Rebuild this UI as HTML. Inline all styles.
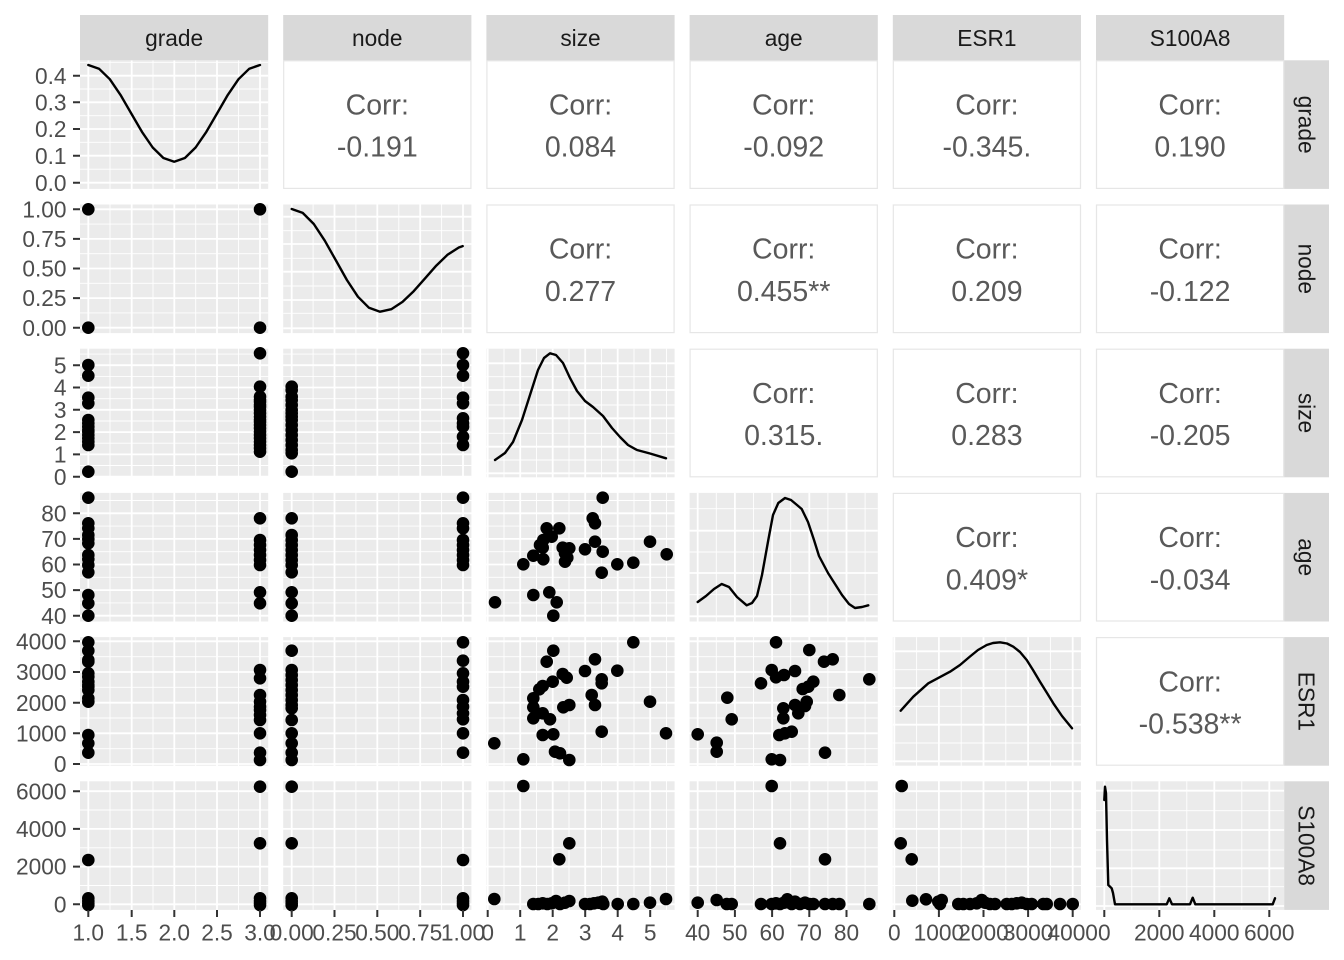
<!DOCTYPE html>
<html><head><meta charset="utf-8"><style>
html,body{margin:0;padding:0;background:#fff;}
svg{display:block;}
.t{font-family:"Liberation Sans",Arial,sans-serif;}
</style></head><body>
<svg width="1344" height="960" viewBox="0 0 1344 960" xmlns="http://www.w3.org/2000/svg">
<rect width="1344" height="960" fill="#fff"/>
<g fill="#EBEBEB">
<rect x="80" y="60.3" width="188.2" height="128.6"/>
<rect x="80" y="204.5" width="188.2" height="128.6"/><rect x="283.2" y="204.5" width="188.2" height="128.6"/>
<rect x="80" y="348.7" width="188.2" height="128.6"/><rect x="283.2" y="348.7" width="188.2" height="128.6"/><rect x="486.4" y="348.7" width="188.2" height="128.6"/>
<rect x="80" y="492.9" width="188.2" height="128.6"/><rect x="283.2" y="492.9" width="188.2" height="128.6"/><rect x="486.4" y="492.9" width="188.2" height="128.6"/><rect x="689.6" y="492.9" width="188.2" height="128.6"/>
<rect x="80" y="637.1" width="188.2" height="128.6"/><rect x="283.2" y="637.1" width="188.2" height="128.6"/><rect x="486.4" y="637.1" width="188.2" height="128.6"/><rect x="689.6" y="637.1" width="188.2" height="128.6"/><rect x="892.8" y="637.1" width="188.2" height="128.6"/>
<rect x="80" y="781.3" width="188.2" height="128.6"/><rect x="283.2" y="781.3" width="188.2" height="128.6"/><rect x="486.4" y="781.3" width="188.2" height="128.6"/><rect x="689.6" y="781.3" width="188.2" height="128.6"/><rect x="892.8" y="781.3" width="188.2" height="128.6"/><rect x="1096" y="781.3" width="188.2" height="128.6"/>
</g>
<!-- minor grid -->
<path stroke="#fff" stroke-width="0.9" fill="none" d="
M110 60.3V909.9M153 60.3V909.9M195.7 60.3V909.9M238.5 60.3V909.9
M313.1 204.5V909.9M355.9 204.5V909.9M398.8 204.5V909.9M441.6 204.5V909.9
M504 348.7V909.9M536.5 348.7V909.9M569 348.7V909.9M601.5 348.7V909.9M634 348.7V909.9M666.5 348.7V909.9
M716.3 492.9V909.9M753.5 492.9V909.9M790.7 492.9V909.9M827.9 492.9V909.9M865.1 492.9V909.9
M916.6 637.1V909.9M961.2 637.1V909.9M1005.8 637.1V909.9M1050.4 637.1V909.9
M1131.8 781.3V909.9M1186.8 781.3V909.9M1241.8 781.3V909.9
M80 169.2H268.2M80 142.3H268.2M80 115.7H268.2M80 89H268.2M80 62.3H268.2
M80 312.9H268.2M80 283.3H268.2M80 253.7H268.2M80 224.1H268.2
M283.2 313.3H471.4M283.2 286H471.4M283.2 258.3H471.4M283.2 230.7H471.4
M80 465.5H471.4M80 443.2H471.4M80 421H471.4M80 398.7H471.4M80 376.4H471.4M80 354.1H471.4
M486.4 460H674.6M486.4 433.3H674.6M486.4 405H674.6M486.4 376.7H674.6
M80 602.9H674.6M80 577.3H674.6M80 551.7H674.6M80 526.1H674.6M80 500.5H674.6
M689.6 594.7H877.8M689.6 552H877.8M689.6 508.7H877.8
M80 748.7H877.8M80 718H877.8M80 687.3H877.8M80 656.7H877.8
M892.8 743H1081M892.8 706.3H1081M892.8 669.7H1081
M80 885.5H1081M80 847.8H1081M80 810H1081
M1096 886.7H1284.2M1096 850H1284.2M1096 810.7H1284.2"/>
<!-- major grid -->
<path stroke="#fff" stroke-width="1.8" fill="none" d="
M88.3 60.3V909.9M131.7 60.3V909.9M174.3 60.3V909.9M217 60.3V909.9M260 60.3V909.9
M291.7 204.5V909.9M334.5 204.5V909.9M377.3 204.5V909.9M420.2 204.5V909.9M463 204.5V909.9
M487.7 348.7V909.9M520.2 348.7V909.9M552.7 348.7V909.9M585.2 348.7V909.9M617.7 348.7V909.9M650.2 348.7V909.9
M697.7 492.9V909.9M734.9 492.9V909.9M772.1 492.9V909.9M809.3 492.9V909.9M846.5 492.9V909.9
M894.3 637.1V909.9M938.9 637.1V909.9M983.5 637.1V909.9M1028.1 637.1V909.9M1072.7 637.1V909.9
M1104.3 781.3V909.9M1159.3 781.3V909.9M1214.3 781.3V909.9M1269.3 781.3V909.9
M80 182.7H268.2M80 155.7H268.2M80 129H268.2M80 102.3H268.2M80 75.7H268.2
M80 209.3H268.2M80 238.9H268.2M80 268.5H268.2M80 298.1H268.2M80 327.7H268.2
M283.2 328.3H471.4M283.2 300H471.4M283.2 271.7H471.4M283.2 244H471.4M283.2 216.7H471.4
M80 476.7H471.4M80 454.4H471.4M80 432.1H471.4M80 409.8H471.4M80 387.5H471.4M80 365.2H471.4
M486.4 473.3H674.6M486.4 446.7H674.6M486.4 418.3H674.6M486.4 390H674.6M486.4 363.3H674.6
M80 615.7H674.6M80 590.1H674.6M80 564.5H674.6M80 538.9H674.6M80 513.3H674.6
M689.6 616.3H877.8M689.6 573H877.8M689.6 530.7H877.8
M80 764H877.8M80 733.3H877.8M80 702.7H877.8M80 672H877.8M80 641.3H877.8
M892.8 761.3H1081M892.8 724.7H1081M892.8 688H1081M892.8 651.3H1081
M80 904.3H1081M80 866.6H1081M80 828.9H1081M80 791.2H1081
M1096 906H1284.2M1096 868.3H1284.2M1096 830H1284.2M1096 790.7H1284.2"/>

<!-- densities -->
<g fill="none" stroke="#000" stroke-width="2.4" stroke-linejoin="round" stroke-linecap="round">
<polyline points="88.3,65 99,68.7 109.8,79.2 120.5,94.9 131.2,113.4 142,131.9 152.7,147.5 163.4,158 174.2,161.7 184.9,158 195.6,147.5 206.3,131.9 217.1,113.4 227.8,94.9 238.5,79.2 249.3,68.7 260,65"/>
<polyline points="291.7,209 302.7,212.9 313.8,224 324.8,240.7 335.9,260.4 346.9,280 357.9,296.7 369,307.8 380,311.7 391.3,309.2 402.5,301.9 413.8,291.1 425,278.4 436.3,265.6 447.5,254.8 458.8,247.5 462.7,246.1"/>
<polyline points="495,460 505,453 513,442 522,420 530,395 538,370 544,358 550,353.3 556,355 563,363 570,378 577,391 585,401 593,407 603,416 612,428 620,437 628,445 637,450 650,453.5 666,458.3"/>
<polyline points="697.7,602 706,596 714,589 721.7,584 729,587 737,597 746.7,605.3 752,603 757,596 762,575 768.3,540 773,515 778.3,503 785,498 791,500 797,505 801.7,509 808,522 814,540 819,556 828,573 835,584 842,595 849,604 855,608 862,607 868.3,605.3"/>
<polyline points="900.7,710.7 913.3,696.7 928.3,683.3 950,671.7 960,665 970,656.5 978,650 986.7,645 993,643 1000,642.3 1007,643.5 1013.3,646.7 1020,652 1026.7,660 1033,670 1040,681.7 1047,693 1053.3,703.3 1062,716 1072,728.3"/>
<polyline points="1104.3,800 1105,786.7 1106,793.3 1107,840 1108.3,885 1111.7,888.3 1113,893 1115,904.3 1166.7,904.3 1169.3,898.3 1172,904.3 1190,904.3 1192.7,897.7 1195.3,904.3 1272.7,904.3 1275,898.3"/>
</g>

<!-- points -->
<path fill="none" stroke="#000" stroke-width="12.6" stroke-linecap="round" d="
M88.3 209.3h0.01M260 209.3h0.01M88.3 327.7h0.01M260 327.7h0.01
M88.3 365h0.01M88.3 375.7h0.01M88.3 397.7h0.01M88.3 403.3h0.01M88.3 420h0.01M88.3 423.3h0.01M88.3 426.7h0.01M88.3 430h0.01M88.3 431.7h0.01M88.3 435h0.01M88.3 438.3h0.01M88.3 441.7h0.01M88.3 445h0.01M88.3 471.7h0.01
M260 353.3h0.01M260 386.7h0.01M260 396.7h0.01M260 400h0.01M260 401.7h0.01M260 405h0.01M260 406.7h0.01M260 410h0.01M260 413.3h0.01M260 416.7h0.01M260 420h0.01M260 421.7h0.01M260 425h0.01M260 428.3h0.01M260 431.7h0.01M260 435h0.01M260 438.3h0.01M260 441.7h0.01M260 445h0.01M260 448.3h0.01M260 451.7h0.01
M291.7 386.7h0.01M291.7 390h0.01M291.7 396.7h0.01M291.7 400h0.01M291.7 405h0.01M291.7 410h0.01M291.7 413.3h0.01M291.7 416.7h0.01M291.7 420h0.01M291.7 425h0.01M291.7 430h0.01M291.7 435h0.01M291.7 440h0.01M291.7 445h0.01M291.7 450h0.01M291.7 453.3h0.01M291.7 471.7h0.01
M463 353.3h0.01M463 365h0.01M463 375.7h0.01M463 397.7h0.01M463 403.3h0.01M463 418.3h0.01M463 423.3h0.01M463 426.7h0.01M463 436.7h0.01M463 445h0.01
M88.3 497.7h0.01M88.3 523.3h0.01M88.3 528.3h0.01M88.3 535h0.01M88.3 539h0.01M88.3 543.3h0.01M88.3 555h0.01M88.3 559h0.01M88.3 565h0.01M88.3 572.3h0.01M88.3 595h0.01M88.3 603.3h0.01M88.3 615.7h0.01
M260 518.3h0.01M260 540h0.01M260 545h0.01M260 550h0.01M260 555h0.01M260 560h0.01M260 565h0.01M260 592.3h0.01M260 603.3h0.01
M291.7 518.3h0.01M291.7 535h0.01M291.7 540h0.01M291.7 545h0.01M291.7 550h0.01M291.7 555h0.01M291.7 560h0.01M291.7 565h0.01M291.7 572.3h0.01M291.7 592.3h0.01M291.7 603.3h0.01M291.7 615.7h0.01
M463 497.7h0.01M463 523.3h0.01M463 528.3h0.01M463 540h0.01M463 545h0.01M463 550h0.01M463 555h0.01M463 560h0.01M463 565h0.01
M88.3 642.3h0.01M88.3 650.7h0.01M88.3 660h0.01M88.3 661.7h0.01M88.3 673.3h0.01M88.3 676.7h0.01M88.3 681.7h0.01M88.3 685h0.01M88.3 686.7h0.01M88.3 690h0.01M88.3 698.3h0.01M88.3 701.7h0.01M88.3 735h0.01M88.3 743.3h0.01M88.3 752.7h0.01
M260 670h0.01M260 678.3h0.01M260 695h0.01M260 701.7h0.01M260 706.7h0.01M260 710h0.01M260 715h0.01M260 720h0.01M260 733.3h0.01M260 752.7h0.01M260 760h0.01
M291.7 650.7h0.01M291.7 670h0.01M291.7 675h0.01M291.7 680h0.01M291.7 685h0.01M291.7 690h0.01M291.7 695h0.01M291.7 700h0.01M291.7 705h0.01M291.7 708.3h0.01M291.7 720h0.01M291.7 733.3h0.01M291.7 743.3h0.01M291.7 752.7h0.01M291.7 760h0.01
M463 642.3h0.01M463 660.7h0.01M463 673.3h0.01M463 681.7h0.01M463 686.7h0.01M463 700h0.01M463 706.7h0.01M463 713.3h0.01M463 719.3h0.01M463 733.3h0.01M463 752.7h0.01
M88.3 860h0.01M88.3 898.3h0.01M88.3 901h0.01M88.3 903.3h0.01M88.3 905h0.01
M260 786.7h0.01M260 843.3h0.01M260 898.3h0.01M260 901h0.01M260 903.3h0.01M260 905h0.01
M291.7 786.7h0.01M291.7 843.3h0.01M291.7 898.3h0.01M291.7 901h0.01M291.7 903.3h0.01M291.7 905h0.01
M463 860h0.01M463 898.3h0.01M463 901h0.01M463 903.3h0.01M463 905h0.01
M602.7 497.7h0.01M592.7 518.3h0.01M595 523.3h0.01M546.7 528.3h0.01M559.3 528.3h0.01M551.7 536.7h0.01M543.3 540h0.01M540 545h0.01M542.7 547.7h0.01M533.3 555.7h0.01M543.3 559.3h0.01M523.3 564.3h0.01M562.7 547.7h0.01M569.3 548.3h0.01M565 553.3h0.01M567.3 557.7h0.01M565 561.7h0.01M585 549.3h0.01M595 541.7h0.01M602.7 551.7h0.01M650 541.7h0.01M666.7 554.3h0.01M617.3 564.3h0.01M633.3 562.7h0.01M601.7 572.7h0.01M533.3 595h0.01M549.3 592.3h0.01M556.7 602.3h0.01M553.3 615.7h0.01M495 602.3h0.01
M633.3 642.3h0.01M553.3 650.7h0.01M546.7 661.7h0.01M595 659.3h0.01M585 671h0.01M617.3 670.7h0.01M562.7 674h0.01M566.7 677.7h0.01M552.7 681.7h0.01M542.7 686h0.01M539.3 689.3h0.01M533.3 698.3h0.01M533.3 707.3h0.01M542.7 713.3h0.01M533.3 718.3h0.01M550 719.3h0.01M601.7 679.3h0.01M601.7 683.3h0.01M591.7 695h0.01M595 705h0.01M650 701.7h0.01M569.3 705h0.01M563.3 707.3h0.01M542.7 735h0.01M553.3 734.3h0.01M601.7 731.7h0.01M666 733.3h0.01M494.3 743.3h0.01M555 751.7h0.01M560 753.3h0.01M523.3 759.3h0.01M569.3 760h0.01
M523.3 786h0.01M569.3 843.3h0.01M559.3 859.3h0.01M494.3 899h0.01M666 899h0.01M533.3 904h0.01M538.3 904h0.01M542.7 903.3h0.01M547.3 904h0.01M551.7 903.3h0.01M556 901h0.01M560 904h0.01M565 902.7h0.01M569.3 901h0.01M585 904h0.01M590 904h0.01M594 903.3h0.01M598.3 902.7h0.01M602.3 901.7h0.01M603.3 904h0.01M617.7 904h0.01M633.3 904h0.01M650 902.7h0.01
M776 642.3h0.01M809.3 650h0.01M824 661.7h0.01M832.7 659.3h0.01M771.7 670h0.01M776 677.3h0.01M784 675h0.01M795 671h0.01M761 683.3h0.01M869.3 679.3h0.01M813.3 681.7h0.01M808.3 686.7h0.01M802.7 689h0.01M839.3 695h0.01M727.3 697.7h0.01M783.3 708.3h0.01M795 705h0.01M806.7 701.7h0.01M805 706h0.01M798.3 713.3h0.01M783.3 718.3h0.01M731.7 719.3h0.01M779.3 735h0.01M785 733.3h0.01M791.7 731.7h0.01M697.7 734.3h0.01M716.7 742.7h0.01M716.7 751.7h0.01M825 752.7h0.01M771.7 759.3h0.01M780 760h0.01
M771.7 786h0.01M780 843.3h0.01M825 859.3h0.01M697.7 902.7h0.01M716.7 900h0.01M726.7 904h0.01M731.7 904h0.01M761 904h0.01M771.7 904h0.01M776 903.3h0.01M780 904h0.01M784 902.7h0.01M787.3 899.3h0.01M791.7 904h0.01M795 901.7h0.01M800 904h0.01M805 902.7h0.01M809.3 904h0.01M813.3 904h0.01M825 904h0.01M832.7 904h0.01M839.3 904h0.01M869.3 904h0.01
M901.7 786h0.01M900.7 843.3h0.01M911.7 859.3h0.01M912.3 900.7h0.01M926 899.3h0.01M938.3 901.7h0.01M941.7 900h0.01M940 904h0.01M958.3 904h0.01M963.3 904h0.01M970 904h0.01M976.7 903.3h0.01M981.7 900h0.01M985 902.7h0.01M990 904h0.01M995 904h0.01M1006.7 904h0.01M1011.7 904h0.01M1016.7 903.3h0.01M1021.7 902.7h0.01M1026.7 904h0.01M1031.7 904h0.01M1043.3 904h0.01M1046.7 904h0.01M1060 904h0.01M1072.7 904h0.01"/>

<!-- correlation panels -->
<g fill="#fff" stroke="#E6E6E6" stroke-width="1.2">
<rect x="283.7" y="60.8" width="187.2" height="127.6"/><rect x="486.9" y="60.8" width="187.2" height="127.6"/><rect x="690.1" y="60.8" width="187.2" height="127.6"/><rect x="893.3" y="60.8" width="187.2" height="127.6"/><rect x="1096.5" y="60.8" width="187.2" height="127.6"/>
<rect x="486.9" y="205" width="187.2" height="127.6"/><rect x="690.1" y="205" width="187.2" height="127.6"/><rect x="893.3" y="205" width="187.2" height="127.6"/><rect x="1096.5" y="205" width="187.2" height="127.6"/>
<rect x="690.1" y="349.2" width="187.2" height="127.6"/><rect x="893.3" y="349.2" width="187.2" height="127.6"/><rect x="1096.5" y="349.2" width="187.2" height="127.6"/>
<rect x="893.3" y="493.4" width="187.2" height="127.6"/><rect x="1096.5" y="493.4" width="187.2" height="127.6"/>
<rect x="1096.5" y="637.6" width="187.2" height="127.6"/>
</g>
<g class="t" font-size="28.5" fill="#595959" text-anchor="middle">
<text x="377.3" y="114.5">Corr:</text><text x="377.3" y="156.7">-0.191</text>
<text x="580.5" y="114.5">Corr:</text><text x="580.5" y="156.7">0.084</text>
<text x="783.7" y="114.5">Corr:</text><text x="783.7" y="156.7">-0.092</text>
<text x="986.9" y="114.5">Corr:</text><text x="986.9" y="156.7">-0.345.</text>
<text x="1190.1" y="114.5">Corr:</text><text x="1190.1" y="156.7">0.190</text>
<text x="580.5" y="258.7">Corr:</text><text x="580.5" y="300.9">0.277</text>
<text x="783.7" y="258.7">Corr:</text><text x="783.7" y="300.9">0.455**</text>
<text x="986.9" y="258.7">Corr:</text><text x="986.9" y="300.9">0.209</text>
<text x="1190.1" y="258.7">Corr:</text><text x="1190.1" y="300.9">-0.122</text>
<text x="783.7" y="402.9">Corr:</text><text x="783.7" y="445.1">0.315.</text>
<text x="986.9" y="402.9">Corr:</text><text x="986.9" y="445.1">0.283</text>
<text x="1190.1" y="402.9">Corr:</text><text x="1190.1" y="445.1">-0.205</text>
<text x="986.9" y="547.1">Corr:</text><text x="986.9" y="589.3">0.409*</text>
<text x="1190.1" y="547.1">Corr:</text><text x="1190.1" y="589.3">-0.034</text>
<text x="1190.1" y="691.3">Corr:</text><text x="1190.1" y="733.5">-0.538**</text>
</g>

<!-- strips -->
<g fill="#D9D9D9">
<rect x="80" y="15" width="188.2" height="45.3"/><rect x="283.2" y="15" width="188.2" height="45.3"/><rect x="486.4" y="15" width="188.2" height="45.3"/><rect x="689.6" y="15" width="188.2" height="45.3"/><rect x="892.8" y="15" width="188.2" height="45.3"/><rect x="1096" y="15" width="188.2" height="45.3"/>
<rect x="1284.2" y="60.3" width="44.8" height="128.6"/><rect x="1284.2" y="204.5" width="44.8" height="128.6"/><rect x="1284.2" y="348.7" width="44.8" height="128.6"/><rect x="1284.2" y="492.9" width="44.8" height="128.6"/><rect x="1284.2" y="637.1" width="44.8" height="128.6"/><rect x="1284.2" y="781.3" width="44.8" height="128.6"/>
</g>
<g class="t" font-size="22.7" fill="#1A1A1A" text-anchor="middle">
<text x="174.1" y="45.8">grade</text><text x="377.3" y="45.8">node</text><text x="580.5" y="45.8">size</text><text x="783.7" y="45.8">age</text><text x="986.9" y="45.8">ESR1</text><text x="1190.1" y="45.8">S100A8</text>
<text transform="translate(1298.5,124.6) rotate(90)">grade</text>
<text transform="translate(1298.5,268.8) rotate(90)">node</text>
<text transform="translate(1298.5,413) rotate(90)">size</text>
<text transform="translate(1298.5,557.2) rotate(90)">age</text>
<text transform="translate(1298.5,701.4) rotate(90)">ESR1</text>
<text transform="translate(1298.5,845.6) rotate(90)">S100A8</text>
</g>

<!-- ticks -->
<path stroke="#333" stroke-width="2" fill="none" d="
M73 75.7H80M73 102.3H80M73 129H80M73 155.7H80M73 182.7H80
M73 209.3H80M73 238.9H80M73 268.5H80M73 298.1H80M73 327.7H80
M73 365.2H80M73 387.5H80M73 409.8H80M73 432.1H80M73 454.4H80M73 476.7H80
M73 513.3H80M73 538.9H80M73 564.5H80M73 590.1H80M73 615.7H80
M73 641.3H80M73 672H80M73 702.7H80M73 733.3H80M73 764H80
M73 791.2H80M73 828.9H80M73 866.6H80M73 904.3H80
M88.3 910V917M131.7 910V917M174.3 910V917M217 910V917M260 910V917
M291.7 910V917M334.5 910V917M377.3 910V917M420.2 910V917M463 910V917
M487.7 910V917M520.2 910V917M552.7 910V917M585.2 910V917M617.7 910V917M650.2 910V917
M697.7 910V917M734.9 910V917M772.1 910V917M809.3 910V917M846.5 910V917
M894.3 910V917M938.9 910V917M983.5 910V917M1028.1 910V917M1072.7 910V917
M1104.3 910V917M1159.3 910V917M1214.3 910V917M1269.3 910V917"/>
<g class="t" font-size="22.7" fill="#4D4D4D" text-anchor="end">
<text x="66.5" y="83.8">0.4</text><text x="66.5" y="110.4">0.3</text><text x="66.5" y="137.1">0.2</text><text x="66.5" y="163.8">0.1</text><text x="66.5" y="190.8">0.0</text>
<text x="66.5" y="217.4">1.00</text><text x="66.5" y="247">0.75</text><text x="66.5" y="276.6">0.50</text><text x="66.5" y="306.2">0.25</text><text x="66.5" y="335.8">0.00</text>
<text x="66.5" y="373.3">5</text><text x="66.5" y="395.6">4</text><text x="66.5" y="417.9">3</text><text x="66.5" y="440.2">2</text><text x="66.5" y="462.5">1</text><text x="66.5" y="484.8">0</text>
<text x="66.5" y="521.4">80</text><text x="66.5" y="547">70</text><text x="66.5" y="572.6">60</text><text x="66.5" y="598.2">50</text><text x="66.5" y="623.8">40</text>
<text x="66.5" y="649.4">4000</text><text x="66.5" y="680.1">3000</text><text x="66.5" y="710.8">2000</text><text x="66.5" y="741.4">1000</text><text x="66.5" y="772.1">0</text>
<text x="66.5" y="799.3">6000</text><text x="66.5" y="837">4000</text><text x="66.5" y="874.7">2000</text><text x="66.5" y="912.4">0</text>
</g>
<g class="t" font-size="22.7" fill="#4D4D4D" text-anchor="middle">
<text x="88.3" y="940.5">1.0</text><text x="131.7" y="940.5">1.5</text><text x="174.3" y="940.5">2.0</text><text x="217" y="940.5">2.5</text><text x="260" y="940.5">3.0</text>
<text x="291.7" y="940.5">0.00</text><text x="334.5" y="940.5">0.25</text><text x="377.3" y="940.5">0.50</text><text x="420.2" y="940.5">0.75</text><text x="463" y="940.5">1.00</text>
<text x="487.7" y="940.5">0</text><text x="520.2" y="940.5">1</text><text x="552.7" y="940.5">2</text><text x="585.2" y="940.5">3</text><text x="617.7" y="940.5">4</text><text x="650.2" y="940.5">5</text>
<text x="697.7" y="940.5">40</text><text x="734.9" y="940.5">50</text><text x="772.1" y="940.5">60</text><text x="809.3" y="940.5">70</text><text x="846.5" y="940.5">80</text>
<text x="894.3" y="940.5">0</text><text x="938.9" y="940.5">1000</text><text x="983.5" y="940.5">2000</text><text x="1028.1" y="940.5">3000</text><text x="1072.7" y="940.5">4000</text>
<text x="1104.3" y="940.5">0</text><text x="1159.3" y="940.5">2000</text><text x="1214.3" y="940.5">4000</text><text x="1269.3" y="940.5">6000</text>
</g>
</svg>
</body></html>
